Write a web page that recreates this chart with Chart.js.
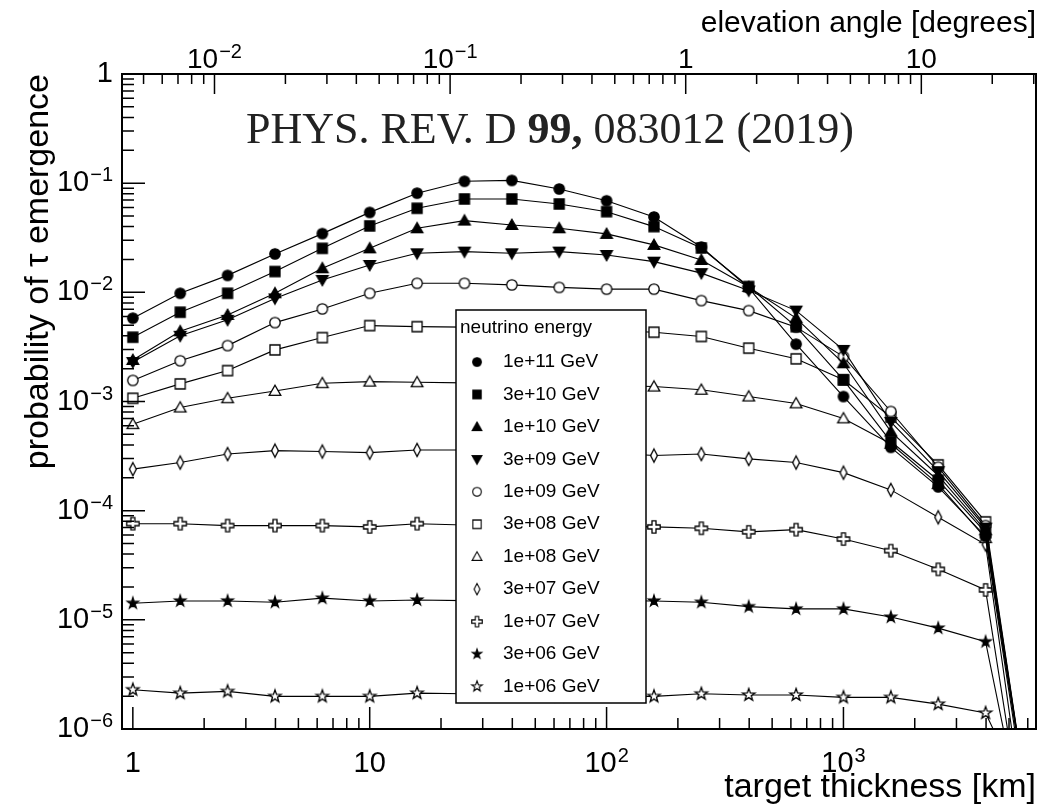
<!DOCTYPE html>
<html>
<head>
<meta charset="utf-8">
<title>Probability of tau emergence</title>
<script src="https://cdn.jsdelivr.net/npm/chart.js@4.4.1/dist/chart.umd.min.js"></script>
<style>
  html, body { margin: 0; padding: 0; background: #fff; }
</style>
</head>
<body>
<canvas id="tauChart" width="1061" height="810"></canvas>
<script>
// target thickness [km]; the last point sits below the plotted range (the curves drop off)
const thickness = [1, 1.585, 2.512, 3.981, 6.310, 10, 15.85, 25.12, 39.81, 63.10,
                   100, 158.5, 251.2, 398.1, 631.0, 1000, 1585, 2512, 3981, 6310];

const energyLabels = ['1e+11 GeV', '3e+10 GeV', '1e+10 GeV', '3e+09 GeV', '1e+09 GeV', '3e+08 GeV',
                      '1e+08 GeV', '3e+07 GeV', '1e+07 GeV', '3e+06 GeV', '1e+06 GeV'];

const p1e11 = [0.0058, 0.0098, 0.0143, 0.0225, 0.0345, 0.054, 0.081, 0.104, 0.106, 0.0885,
               0.069, 0.049, 0.026, 0.0110, 0.00335, 0.00111, 0.00038, 0.000165, 0.000058, 1.0e-7];
const p3e10 = [0.00388, 0.00657, 0.0098, 0.0155, 0.0253, 0.0406, 0.0589, 0.0717, 0.0717, 0.0645,
               0.0548, 0.040, 0.0255, 0.0113, 0.00485, 0.00158, 0.00043, 0.00019, 0.000063, 1.0e-7];
const p1e10 = [0.0024, 0.0044, 0.0062, 0.0098, 0.0166, 0.0253, 0.0386, 0.0454, 0.0414, 0.0386,
               0.0343, 0.0272, 0.0198, 0.0112, 0.0058, 0.00224, 0.00053, 0.00021, 0.000066, 1.0e-7];
const p3e9  = [0.0023, 0.0040, 0.0056, 0.0088, 0.0130, 0.0178, 0.0228, 0.0236, 0.0228, 0.0236,
               0.0220, 0.0191, 0.0150, 0.0104, 0.0068, 0.00297, 0.00065, 0.00023, 0.000070, 1.0e-7];
const p1e9  = [0.00156, 0.00236, 0.00325, 0.00528, 0.00705, 0.0098, 0.0121, 0.0121, 0.0117, 0.0111,
               0.0107, 0.0107, 0.0084, 0.0068, 0.0048, 0.00258, 0.00081, 0.00025, 0.000073, 1.0e-7];
const p3e8  = [0.00107, 0.00145, 0.00192, 0.00297, 0.00385, 0.00496, 0.00485, 0.0048, 0.0047, 0.0046,
               0.0045, 0.00431, 0.00394, 0.00308, 0.00246, 0.00158, 0.00072, 0.000263, 0.000079, 1.0e-7];
const p1e8  = [0.00062, 0.00088, 0.00107, 0.00125, 0.00147, 0.00152, 0.0015, 0.00148, 0.00146, 0.00143,
               0.0014, 0.00137, 0.00128, 0.00111, 0.00096, 0.00070, 0.00041, 0.000175, 0.000056, 8e-8];
const p3e7  = [0.00024, 0.000276, 0.00033, 0.000355, 0.000348, 0.00034, 0.00036, 0.00036, 0.00035, 0.00035,
               0.00034, 0.00032, 0.00033, 0.000298, 0.000276, 0.000223, 0.000155, 0.000087, 0.000049, 4.2e-8];
const p1e7  = [7.6e-5, 7.6e-5, 7.3e-5, 7.3e-5, 7.3e-5, 7.1e-5, 7.6e-5, 7.4e-5, 7.4e-5, 7.3e-5,
               7.2e-5, 7.1e-5, 6.9e-5, 6.4e-5, 6.7e-5, 5.5e-5, 4.3e-5, 2.9e-5, 1.88e-5, 3.3e-8];
const p3e6  = [1.42e-5, 1.49e-5, 1.49e-5, 1.45e-5, 1.58e-5, 1.49e-5, 1.52e-5, 1.5e-5, 1.5e-5, 1.5e-5,
               1.5e-5, 1.49e-5, 1.45e-5, 1.32e-5, 1.26e-5, 1.26e-5, 1.06e-5, 8.4e-6, 6.3e-6, 4.7e-8];
const p1e6  = [2.29e-6, 2.13e-6, 2.21e-6, 1.99e-6, 1.99e-6, 1.99e-6, 2.13e-6, 2.1e-6, 2.05e-6, 2.0e-6,
               2.0e-6, 1.99e-6, 2.1e-6, 2.05e-6, 2.05e-6, 1.95e-6, 1.95e-6, 1.69e-6, 1.4e-6, 1.7e-7];

const series = [p1e11, p3e10, p1e10, p3e9, p1e9, p3e8, p1e8, p3e7, p1e7, p3e6, p1e6];
const markerKinds = ['circle', 'square', 'triangle', 'triangleDown', 'openCircle', 'openSquare',
                     'openTriangle', 'openDiamond', 'openCross', 'star', 'openStar'];

// axis ranges and labelled ticks ([base, exponent])
const xRange = [0.9, 6500];          // km
const yRange = [1e-6, 1];
const angleRange = [0.00405, 30.67]; // degrees, same span as the thickness axis
const xMajorTicks = [1, 10, 100, 1000];
const xMajorLabels = [['1', ''], ['10', ''], ['10', '2'], ['10', '3']];
const yMajorTicks = [1, 1e-1, 1e-2, 1e-3, 1e-4, 1e-5, 1e-6];
const yMajorLabels = [['1', ''], ['10', '−1'], ['10', '−2'], ['10', '−3'], ['10', '−4'], ['10', '−5'], ['10', '−6']];
const angleMajorTicks = [0.01, 0.1, 1, 10];
const angleMajorLabels = [['10', '−2'], ['10', '−1'], ['1', ''], ['10', '']];

const SANS = '"Liberation Sans", Arial, sans-serif';
Chart.defaults.font.family = SANS;
Chart.defaults.color = '#000';

// ROOT-like marker bitmaps used as point styles
function makeMarker(kind) {
    const c = document.createElement('canvas');
    c.width = 18; c.height = 18;
    const g = c.getContext('2d');
    g.translate(9, 9);
    g.lineWidth = 1.3;
    g.strokeStyle = '#000';
    g.fillStyle = kind.startsWith('open') ? '#fff' : '#000';
    g.beginPath();
    if (kind === 'circle' || kind === 'openCircle') {
        g.arc(0, 0, 5.2, 0, 2 * Math.PI);
    } else if (kind === 'square' || kind === 'openSquare') {
        g.rect(-5, -5, 10, 10);
    } else if (kind === 'triangle' || kind === 'openTriangle') {
        g.moveTo(0, -5.8); g.lineTo(5.8, 4.4); g.lineTo(-5.8, 4.4); g.closePath();
    } else if (kind === 'triangleDown') {
        g.moveTo(0, 5.8); g.lineTo(5.8, -4.4); g.lineTo(-5.8, -4.4); g.closePath();
    } else if (kind === 'openDiamond') {
        g.moveTo(0, -6.5); g.lineTo(3.4, 0); g.lineTo(0, 6.5); g.lineTo(-3.4, 0); g.closePath();
    } else if (kind === 'openCross') {
        const a = 2, b = 6.2;
        const pts = [[-a,-b],[a,-b],[a,-a],[b,-a],[b,a],[a,a],[a,b],[-a,b],[-a,a],[-b,a],[-b,-a],[-a,-a]];
        pts.forEach((p, i) => i ? g.lineTo(p[0], p[1]) : g.moveTo(p[0], p[1]));
        g.closePath();
    } else { // five pointed star, filled or open
        const outer = kind === 'star' ? 5.8 : 6.5, inner = kind === 'star' ? 2.2 : 2.6;
        for (let i = 0; i < 10; i++) {
            const r = i % 2 ? inner : outer;
            const ang = -Math.PI / 2 + i * Math.PI / 5;
            const px = r * Math.cos(ang), py = r * Math.sin(ang);
            i ? g.lineTo(px, py) : g.moveTo(px, py);
        }
        g.closePath();
    }
    g.fill();
    g.stroke();
    return c;
}

function logTicks(min, max) {
    const out = [];
    for (let e = Math.floor(Math.log10(min)); e <= Math.ceil(Math.log10(max)); e++) {
        for (let k = 1; k <= 9; k++) {
            const v = Number((k * Math.pow(10, e)).toPrecision(6));
            if (v >= min * 0.9999 && v <= max * 1.0001) out.push(v);
        }
    }
    return out;
}

function isDecade(v) {
    const l = Math.log10(v);
    return Math.abs(l - Math.round(l)) < 1e-6;
}

const datasets = series.map((vals, i) => ({
    label: energyLabels[i],
    data: thickness.map((t, j) => ({ x: t, y: vals[j] })),
    borderColor: '#000',
    borderWidth: 1.1,
    pointStyle: makeMarker(markerKinds[i]),
    pointRadius: 6,
    tension: 0,
    fill: false
}));

// inward tick marks and the frame, like the original ROOT canvas
const frameTicks = {
    id: 'frameTicks',
    afterDatasetsDraw(chart) {
        const { ctx, chartArea: a, scales } = chart;
        ctx.save();
        ctx.strokeStyle = '#000';
        ctx.lineWidth = 1.5;
        ctx.beginPath();
        scales.x.ticks.forEach(t => {
            const px = scales.x.getPixelForValue(t.value);
            const len = isDecade(t.value) ? 22 : 11;
            ctx.moveTo(px, a.bottom); ctx.lineTo(px, a.bottom - len);
        });
        scales.angle.ticks.forEach(t => {
            const px = scales.angle.getPixelForValue(t.value);
            const len = isDecade(t.value) ? 20 : 10;
            ctx.moveTo(px, a.top); ctx.lineTo(px, a.top + len);
        });
        scales.y.ticks.forEach(t => {
            const py = scales.y.getPixelForValue(t.value);
            const len = isDecade(t.value) ? 23 : 12;
            ctx.moveTo(a.left, py); ctx.lineTo(a.left + len, py);
        });
        ctx.stroke();
        ctx.lineWidth = 2;
        ctx.strokeRect(a.left, a.top, a.right - a.left, a.bottom - a.top);
        ctx.restore();
    }
};

// decade labels with raised exponents (10^-3 style)
function powerLabel(ctx, lab, x, y, size, align) {
    const [base, exp] = lab;
    ctx.font = size + 'px ' + SANS;
    const wb = ctx.measureText(base).width;
    ctx.font = '20px ' + SANS;
    const we = exp ? ctx.measureText(exp).width + 1 : 0;
    const left = align === 'right' ? x - wb - we : x - (wb + we) / 2;
    ctx.font = size + 'px ' + SANS;
    ctx.textBaseline = 'middle';
    ctx.fillText(base, left, y);
    if (exp) {
        ctx.font = '20px ' + SANS;
        ctx.textBaseline = 'alphabetic';
        ctx.fillText(exp, left + wb + 1, y - 2);
    }
}

const decadeLabels = {
    id: 'decadeLabels',
    afterDraw(chart) {
        const { ctx, chartArea: a, scales } = chart;
        ctx.save();
        ctx.fillStyle = '#000';
        xMajorTicks.forEach((v, i) => powerLabel(ctx, xMajorLabels[i], scales.x.getPixelForValue(v), a.bottom + 35, 29, 'center'));
        angleMajorTicks.forEach((v, i) => powerLabel(ctx, angleMajorLabels[i], scales.angle.getPixelForValue(v), a.top - 14, 28, 'center'));
        yMajorTicks.forEach((v, i) => powerLabel(ctx, yMajorLabels[i], a.left - 9, scales.y.getPixelForValue(v), 29, 'right'));
        ctx.restore();
    }
};

// journal reference line inside the frame
const refText = {
    id: 'refText',
    afterDatasetsDraw(chart) {
        const { ctx } = chart;
        const parts = [['PHYS. REV. D ', 'normal'], ['99,', 'bold'], [' 083012 (2019)', 'normal']];
        let x = 246;
        ctx.save();
        ctx.fillStyle = '#222';
        ctx.textBaseline = 'alphabetic';
        parts.forEach(([txt, w]) => {
            ctx.font = w + ' 44px "Liberation Serif", "Times New Roman", serif';
            ctx.fillText(txt, x, 143);
            x += ctx.measureText(txt).width;
        });
        ctx.restore();
    }
};

// boxed legend with a header, placed over the curves
const boxLegend = {
    id: 'boxLegend',
    afterDatasetsDraw(chart) {
        const { ctx } = chart;
        const box = { x: 456, y: 310, w: 190, h: 393 };
        ctx.save();
        ctx.fillStyle = '#fff';
        ctx.fillRect(box.x, box.y, box.w, box.h);
        ctx.strokeStyle = '#000';
        ctx.lineWidth = 1.5;
        ctx.strokeRect(box.x, box.y, box.w, box.h);
        ctx.fillStyle = '#000';
        ctx.textBaseline = 'middle';
        ctx.font = '19px ' + SANS;
        ctx.fillText('neutrino energy', box.x + 4, box.y + 18);
        chart.data.datasets.forEach((ds, i) => {
            const cy = box.y + 52 + i * 32.45;
            const m = ds.pointStyle, k = 0.85;
            ctx.drawImage(m, box.x + 21 - m.width * k / 2, cy - m.height * k / 2, m.width * k, m.height * k);
            ctx.fillText(ds.label, box.x + 47, cy);
        });
        ctx.restore();
    }
};

new Chart(document.getElementById('tauChart'), {
    type: 'line',
    data: { datasets: datasets },
    options: {
        responsive: false,
        animation: false,
        layout: { padding: { left: 0, right: 25, top: 0, bottom: 0 } },
        plugins: { legend: { display: false }, tooltip: { enabled: false } },
        scales: {
            x: {
                type: 'logarithmic',
                position: 'bottom',
                min: xRange[0],
                max: xRange[1],
                grid: { display: false },
                border: { display: false },
                afterBuildTicks: s => { s.ticks = logTicks(s.min, s.max).map(v => ({ value: v })); },
                afterFit: s => { s.height = 81; },
                ticks: { display: false, autoSkip: false },
                title: {
                    display: true, text: 'target thickness [km]', align: 'end',
                    font: { size: 34 }, padding: { top: 0, bottom: 2 }
                }
            },
            angle: {
                type: 'logarithmic',
                position: 'top',
                min: angleRange[0],
                max: angleRange[1],
                grid: { display: false },
                border: { display: false },
                afterBuildTicks: s => { s.ticks = logTicks(s.min, s.max).map(v => ({ value: v })); },
                afterFit: s => { s.height = 74; },
                ticks: { display: false, autoSkip: false },
                title: {
                    display: true, text: 'elevation angle [degrees]', align: 'end',
                    font: { size: 30 }, padding: { top: 6, bottom: 0 }
                }
            },
            y: {
                type: 'logarithmic',
                position: 'left',
                min: yRange[0],
                max: yRange[1],
                grid: { display: false },
                border: { display: false },
                afterBuildTicks: s => { s.ticks = logTicks(s.min, s.max).map(v => ({ value: v })); },
                afterFit: s => { s.width = 122; },
                ticks: { display: false, autoSkip: false },
                title: {
                    display: true, text: 'probability of τ emergence', align: 'end',
                    font: { size: 34 }, padding: { top: 18, bottom: 0 }
                }
            }
        }
    },
    plugins: [frameTicks, refText, boxLegend, decadeLabels]
});
</script>
</body>
</html>
